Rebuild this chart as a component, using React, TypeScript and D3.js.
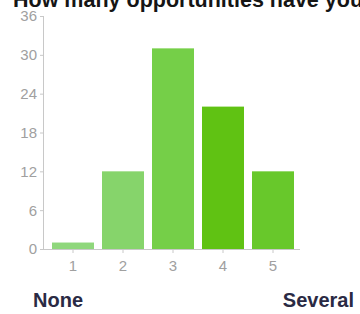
import React from "react";
import * as d3 from "d3";

const categories = ["1", "2", "3", "4", "5"];
const values = [1, 12, 31, 22, 12];
const barColors = ["#8fd77c", "#86d46b", "#75cf48", "#60c213", "#68c82b"];
const yTicks = [0, 6, 12, 18, 24, 30, 36];
const title = "How many opportunities have you had";
const lowLabel = "None";
const highLabel = "Several";

export default function App() {
  const W = 360;
  const H = 314;
  const x = d3
    .scaleBand<string>()
    .domain(categories)
    .range([48, 298])
    .paddingInner(0.16)
    .paddingOuter(0.08);
  const y = d3.scaleLinear().domain([0, 36]).range([249, 16]);
  const axisX0 = 43;
  const axisX1 = 300;
  const axisColor = "#c8c8c8";
  const font = "'Liberation Sans', Arial, Helvetica, sans-serif";

  return (
    <svg
      width={W}
      height={H}
      style={{ position: "absolute", left: 0, top: 0, background: "#fff" }}
      fontFamily={font}
    >
      <text x={13} y={6.5} fontSize={21.5} fontWeight="bold" fill="#151515">
        {title}
      </text>
      {categories.map((c, i) => (
        <rect
          key={c}
          x={x(c)}
          y={y(values[i])}
          width={x.bandwidth()}
          height={y(0) - y(values[i])}
          fill={barColors[i]}
        />
      ))}
      <line x1={axisX0 + 0.5} x2={axisX0 + 0.5} y1={y(36)} y2={y(0)} stroke={axisColor} />
      {yTicks.map((t) => (
        <g key={t}>
          <line x1={axisX0 - 3} x2={axisX0} y1={y(t) + 0.5} y2={y(t) + 0.5} stroke={axisColor} />
          <text
            x={37}
            y={y(t)}
            dy="0.36em"
            textAnchor="end"
            fontSize={15}
            fill="#a0a0a0"
          >
            {t}
          </text>
        </g>
      ))}
      <line x1={axisX0} x2={axisX1} y1={y(0) + 0.5} y2={y(0) + 0.5} stroke={axisColor} />
      {categories.map((c) => {
        const cx = (x(c) as number) + x.bandwidth() / 2;
        return (
          <g key={c}>
            <line x1={cx} x2={cx} y1={y(0)} y2={y(0) + 4} stroke={axisColor} />
            <text x={cx} y={271} textAnchor="middle" fontSize={15} fill="#a0a0a0">
              {c}
            </text>
          </g>
        );
      })}
      <text x={33} y={307} fontSize={20} fontWeight="bold" fill="#2a2a44">
        {lowLabel}
      </text>
      <text x={354} y={307} fontSize={20} fontWeight="bold" textAnchor="end" fill="#2a2a44">
        {highLabel}
      </text>
    </svg>
  );
}
